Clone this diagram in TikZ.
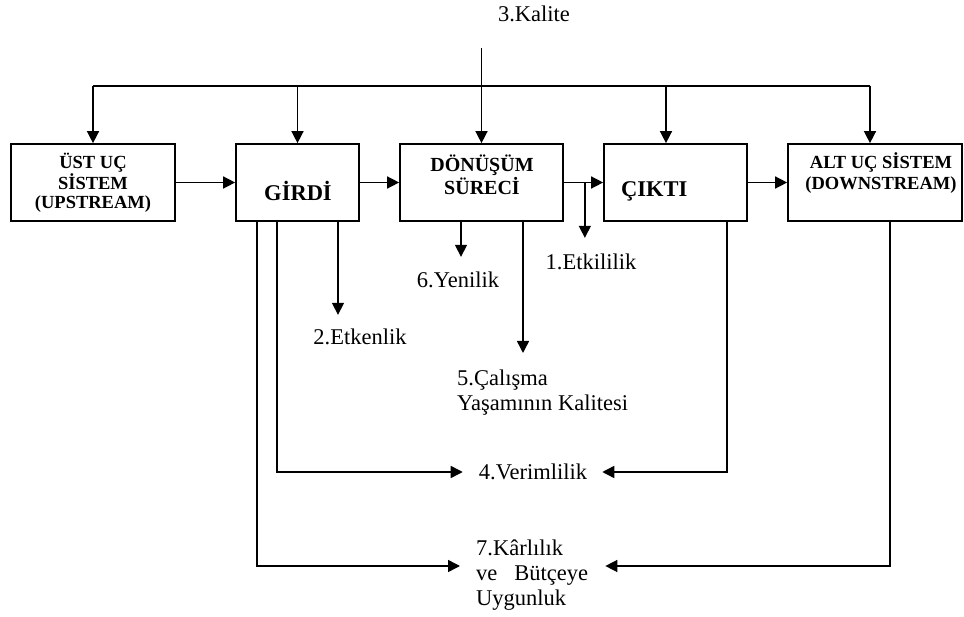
\documentclass[tikz,border=0pt]{standalone}
\usepackage{fontspec}
\setmainfont{Liberation Serif}
\usetikzlibrary{arrows.meta,positioning,calc}

\begin{document}
\begin{tikzpicture}[x=1pt, y=-1pt,
    kutu/.style={draw, line width=1.7pt, minimum height=77pt, inner sep=0pt},
    kutuyazi/.style={font=\fontsize{18.5}{19.5}\selectfont\bfseries, align=center, inner sep=0pt},
    buyukyazi/.style={font=\fontsize{22.5}{24}\selectfont\bfseries, inner sep=0pt},
    etiket/.style={font=\fontsize{22.5}{25}\selectfont, inner sep=0pt},
    hat/.style={line width=1.5pt},
    ok/.style={hat, -{Triangle[length=12pt,width=12pt]}}]
    \useasboundingbox (0,0) rectangle (964,617);

    % Sistem kutulari
    \node[kutu, minimum width=164pt] (ust) at (93,182.5) {};
    \node[kutu, minimum width=123pt] (girdi) at (297.5,182.5) {};
    \node[kutu, minimum width=163pt] (donusum) at (481.5,182.5) {};
    \node[kutu, minimum width=143pt] (cikti) at (675.5,182.5) {};
    \node[kutu, minimum width=174pt] (alt) at (875,182.5) {};

    % Kutu yazilari
    \node[kutuyazi] (ustyazi) at (93,183) {ÜST UÇ\\SİSTEM\\(UPSTREAM)};
    \node[buyukyazi] (girdiyazi) at (298,191) {GİRDİ};
    \node[kutuyazi, font=\fontsize{20}{23}\selectfont\bfseries] (donusumyazi) at (482,175) {DÖNÜŞÜM\\SÜRECİ};
    \node[buyukyazi, anchor=west] (ciktiyazi) at (621,191) {ÇIKTI};
    \node[kutuyazi, font=\fontsize{18.5}{21}\selectfont\bfseries] (altyazi) at (881,173) {ALT UÇ SİSTEM\\(DOWNSTREAM)};

    % Olcutler
    \node[etiket] (kalite) at (534,14) {3.Kalite};
    \node[etiket] (etkililik) at (591,262) {1.Etkililik};
    \node[etiket] (yenilik) at (458,280) {6.Yenilik};
    \node[etiket] (etkenlik) at (360,337) {2.Etkenlik};
    \node[etiket, align=left, anchor=north west] (calisma) at (457,370) {5.Çalışma\\Yaşamının Kalitesi};
    \node[etiket] (verim) at (533,472) {4.Verimlilik};
    \node[etiket, align=left, anchor=north west] (karlilik) at (476,540) {7.Kârlılık\\ve\hspace{17pt}Bütçeye\\Uygunluk};

    % Kalite hatti
    \coordinate (hatust) at (0,86);
    \coordinate (kaliteust) at (donusum.north |- 0,48);
    \coordinate (ciktigiris) at ([xshift=-9.5pt]cikti.north);
    \coordinate (altgiris) at ([xshift=-5pt]alt.north);
    \draw[hat] (kaliteust) -- (donusum.north |- hatust);
    \draw[hat] (ust.north |- hatust) -- (altgiris |- hatust);
    \foreach \hedef in {ust.north, girdi.north, donusum.north, ciktigiris, altgiris}
        \draw[ok] (\hedef |- hatust) -- (\hedef);

    % Akis
    \draw[ok] (ust) -- (girdi);
    \draw[ok] (girdi) -- (donusum);
    \draw[ok] (donusum) -- (cikti);
    \draw[ok] (cikti) -- (alt);

    % Asagi inen oklar
    \coordinate (etkidal) at ($(donusum.east)+(21,0)$);
    \coordinate (etkendal) at ([xshift=40.5pt]girdi.south);
    \coordinate (yenidal) at ([xshift=-20.5pt]donusum.south);
    \coordinate (calismadal) at ([xshift=41.5pt]donusum.south);
    \draw[ok, shorten >=16pt] (etkidal) -- (etkidal |- etkililik.north);
    \draw[ok, shorten >=14pt] (etkendal) -- (etkendal |- etkenlik.north);
    \draw[ok, shorten >=15pt] (yenidal) -- (yenidal |- yenilik.north);
    \draw[ok, shorten >=17pt] (calismadal) -- (calismadal |- calisma.north);

    % Verimlilik ve karlilik
    \coordinate (verimsol) at ([xshift=-20.5pt]girdi.south);
    \coordinate (karsol) at ([xshift=-40.5pt]girdi.south);
    \coordinate (verimsag) at ([xshift=51.5pt]cikti.south);
    \coordinate (karsag) at ([xshift=15pt]alt.south);
    \coordinate (karhiza) at (0,566);
    \draw[ok, shorten >=16pt] (verimsol) |- (verim.west);
    \draw[ok, shorten >=15pt] (verimsag) |- (verim.east);
    \draw[ok, shorten >=16pt] (karsol) |- (karhiza -| karlilik.west);
    \draw[ok, shorten >=17pt] (karsag) |- (karhiza -| karlilik.east);
\end{tikzpicture}
\end{document}
